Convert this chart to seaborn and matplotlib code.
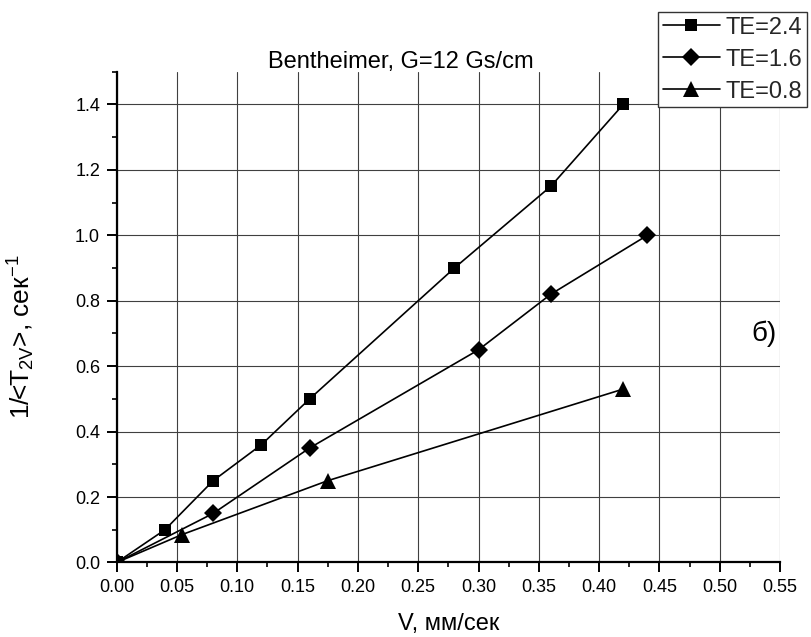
import matplotlib
matplotlib.use("Agg")
import matplotlib.pyplot as plt
from matplotlib.ticker import MultipleLocator, FormatStrFormatter
import pandas as pd
import seaborn as sns

# Measured relaxation rate vs flow velocity for three echo times
v_te24 = [0.0, 0.04, 0.08, 0.12, 0.16, 0.28, 0.36, 0.42]
r_te24 = [0.0, 0.10, 0.25, 0.36, 0.50, 0.90, 1.15, 1.40]

v_te16 = [0.0, 0.08, 0.16, 0.30, 0.36, 0.44]
r_te16 = [0.0, 0.15, 0.35, 0.65, 0.82, 1.00]

v_te08 = [0.0, 0.054, 0.175, 0.42]
r_te08 = [0.0, 0.085, 0.25, 0.53]

series_labels = ["TE=2.4", "TE=1.6", "TE=0.8"]

title_text = "Bentheimer, G=12 Gs/cm"
x_label = "V, мм/сек"
y_label = r"1/<T$_{2V}$>, сек$^{-1}$"
panel_tag = "б)"

sns.set_theme(style="white")
plt.rcParams["font.family"] = ["Liberation Sans", "DejaVu Sans"]
plt.rcParams["mathtext.default"] = "regular"

fig = plt.figure(figsize=(8.11, 6.37), dpi=100)
ax = fig.add_axes([0.1439, 0.1170, 0.9618 - 0.1439, 0.8874 - 0.1170])

styles = [
    (v_te24, r_te24, "s", 8.5),
    (v_te16, r_te16, "D", 9.0),
    (v_te08, r_te08, "^", 11.0),
]
for (xs, ys, mk, ms), lab in zip(styles, series_labels):
    df = pd.DataFrame({"V": xs, "R": ys})
    sns.lineplot(data=df, x="V", y="R", ax=ax, color="black", linewidth=1.2,
                 marker=mk, markersize=ms, markeredgewidth=0, sort=False,
                 label=lab, zorder=3)

ax.set_xlim(0, 0.55)
ax.set_ylim(0, 1.5)
ax.xaxis.set_major_locator(MultipleLocator(0.05))
ax.xaxis.set_minor_locator(MultipleLocator(0.025))
ax.yaxis.set_major_locator(MultipleLocator(0.2))
ax.yaxis.set_minor_locator(MultipleLocator(0.1))
ax.xaxis.set_major_formatter(FormatStrFormatter("%.2f"))
ax.yaxis.set_major_formatter(FormatStrFormatter("%.1f"))

ax.grid(True, which="major", color="#404040", linewidth=0.8)
for s in ("top", "right"):
    ax.spines[s].set_visible(False)
for s in ("left", "bottom"):
    ax.spines[s].set_color("black")
    ax.spines[s].set_linewidth(1.6)

ax.tick_params(which="major", direction="out", length=7, width=1.4,
               labelsize=13, colors="black", pad=5, left=True, bottom=True)
ax.tick_params(which="minor", direction="out", length=3.5, width=1.2,
               colors="black", left=True, bottom=True)

ax.set_xlabel(x_label, fontsize=17, color="black")
ax.set_ylabel(y_label, fontsize=19, color="black")
ax.xaxis.set_label_coords(0.5, -0.103)
ax.yaxis.set_label_coords(-0.12, 0.46)

fig.text(401 / 811, 1 - 67.6 / 637, title_text, fontsize=17, ha="center",
         va="baseline", color="black")

ax.text(0.537, 0.70, panel_tag, fontsize=20, ha="center", va="center",
        color="black")

leg = ax.legend(loc="upper right", bbox_to_anchor=(807 / 811, 1 - 12 / 637),
                bbox_transform=fig.transFigure, fontsize=17, frameon=True,
                fancybox=False, shadow=False, framealpha=1, edgecolor="#333333",
                handlelength=2.4, handletextpad=0.25, borderpad=0.2,
                labelspacing=0.42, borderaxespad=0)
leg.get_frame().set_linewidth(1.0)

fig.savefig("out.png", dpi=100)
